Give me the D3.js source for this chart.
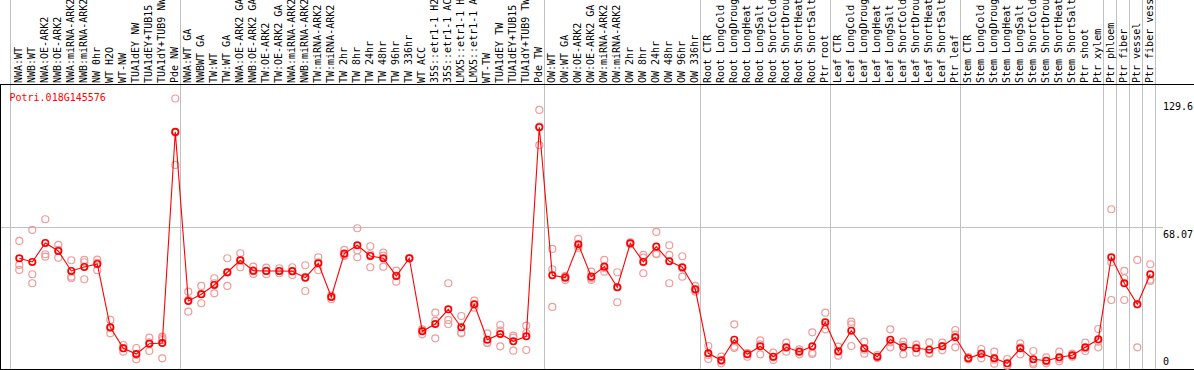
<!DOCTYPE html>
<html>
<head>
<meta charset="utf-8">
<script src="https://cdn.jsdelivr.net/npm/d3@7"></script>
<style>
  body{margin:0;background:#fff}
  text{font-family:"DejaVu Sans Mono",monospace;font-size:10px}
</style>
</head>
<body>
<script>
var geneName="Potri.018G145576"

var categories=["NWA:WT","NWB:WT","NWA:OE-ARK2","NWB:OE-ARK2","NWA:miRNA-ARK2","NWB:miRNA-ARK2","NW 0hr","WT H2O","WT-NW","TUA1dEY NW","TUA1dEY+TUB15 NW","TUA1dY+TUB9 NW","Pde NW",
  "NWA:WT GA","NWBWT GA","TW:WT","TW:WT GA","NWA:OE-ARK2 GA","NWB:OE-ARK2 GA","TW:OE-ARK2","TW:OE-ARK2 GA","NWA:miRNA-ARK2","NWB:miRNA-ARK2","TW:miRNA-ARK2","TW:miRNA-ARK2","TW 2hr","TW 8hr","TW 24hr","TW 48hr","TW 96hr","TW 336hr","WT ACC","35S::etr1-1 H2O","35S::etr1-1 ACC","LMX5::etr1-1 H2O","LMX5::etr1-1 ACC","WT-TW","TUA1dEY TW","TUA1dEY+TUB15 TW","TUA1dY+TUB9 TW","Pde TW",
  "OW:WT","OW:WT GA","OW:OE-ARK2","OW:OE-ARK2 GA","OW:miRNA-ARK2","OW:miRNA-ARK2","OW 2hr","OW 8hr","OW 24hr","OW 48hr","OW 96hr","OW 336hr",
  "Root CTR","Root LongCold","Root LongDrought","Root LongHeat","Root LongSalt","Root ShortCold","Root ShortDrought","Root ShortHeat","Root ShortSalt","Ptr root",
  "Leaf CTR","Leaf LongCold","Leaf LongDrought","Leaf LongHeat","Leaf LongSalt","Leaf ShortCold","Leaf ShortDrought","Leaf ShortHeat","Leaf ShortSalt","Ptr leaf",
  "Stem CTR","Stem LongCold","Stem LongDrought","Stem LongHeat","Stem LongSalt","Stem ShortCold","Stem ShortDrought","Stem ShortHeat","Stem ShortSalt","Ptr shoot","Ptr xylem",
  "Ptr phloem","Ptr fiber","Ptr vessel","Ptr fiber vessel"]

// index where each new group starts (separator lines)
var groupBreaks=[13,41,53,63,73,84,85,86,87,88]

var means=[53.06,51.28,60.39,56.56,46.97,48.89,50.33,19.99,9.92,7.19,12.13,12.46,113.59,
  32.59,35.80,40.26,46.35,52.10,47.11,46.97,46.97,46.87,43.76,50.66,34.51,55.26,59.29,54.16,53.06,44.57,53.06,18.07,21.57,28.61,19.99,31.01,14.04,16.78,13.28,15.67,115.85,
  44.91,43.76,59.77,44.24,49.03,39.16,60.25,51.28,58.62,51.62,48.74,38.20,
  7.52,4.17,14.04,7.05,10.88,5.90,10.40,8.29,10.88,22.38,
  8.48,18.36,9.92,5.90,14.04,10.54,9.92,9.25,10.88,15.19,
  5.13,7.33,5.13,2.73,9.92,4.65,3.98,5.61,6.57,10.40,14.23,
  53.54,41.08,31.01,45.39]

var replicates=[
  [61.35,49.85,47.45],[66.62,45.39,41.08],[71.75,54.97,53.82],[59.43,53.35,57.04],[52.10,44.24,43.47],[52.24,51.14,42.99],[52.39,50.81,47.31],[23.49,17.11,19.65],[11.50,8.29,10.07],[10.07,4.65,6.71],[15.00,8.63,12.80],[15.48,14.71,13.90,5.13],[129.6,97.78,113.26],
  [37.05,27.46,33.07],[39.78,31.49,35.95],[43.47,36.28,41.08],[53.06,39.78,46.16],[55.45,48.74,52.10],[49.03,45.53,46.83],[48.55,45.39,46.97],[48.26,45.87,46.83],[48.74,45.05,46.83],[49.70,37.38,44.10],[53.54,47.31,51.14],[34.99,33.41,35.13],[57.04,54.16,54.64],[67.44,53.54,56.89],[58.81,48.74,54.97],[55.74,49.03,54.30],[47.11,41.84,44.72],[53.20,53.06,52.90],[19.03,16.63,18.55],[26.98,14.71,23.01],[41.08,23.49,21.57],[25.40,17.11,17.40],[32.74,29.38,30.82],[17.11,12.61,12.46],[21.09,10.88,18.36],[15.96,8.77,15.00],[20.75,9.11,17.25],[124.14,107.22,116.13],
  [57.52,47.79,29.72],[42.66,44.57,44.10],[62.31,58.95,58.00],[46.64,42.66,43.47],[52.24,46.64,48.26],[46.35,31.97,39.16],[60.73,59.77,60.25],[54.64,45.87,53.35],[65.66,54.97,55.26],[59.29,54.64,41.08],[54.02,44.24,48.26],[39.78,37.05,37.72],
  [11.02,4.79,6.71],[5.90,2.73,3.83],[21.42,10.69,10.07],[7.52,5.90,7.67],[13.76,7.05,11.84],[7.81,4.31,5.61],[12.61,8.29,10.21],[9.44,7.05,8.48],[17.59,7.81,7.19],[26.98,19.03,21.09],
  [10.69,6.37,8.29],[22.67,11.02,21.42],[13.08,7.33,9.25],[6.71,5.27,5.75],[19.03,10.40,12.80],[13.08,7.05,11.50],[11.65,7.81,10.21],[12.80,7.67,7.33],[12.61,8.96,11.02],[18.69,10.40,16.44],
  [5.75,4.65,4.94],[9.59,5.13,7.33],[8.29,2.54,4.46],[4.79,1.58,1.77],[12.32,7.05,10.40],[8.63,2.25,3.02],[5.61,2.73,3.69],[8.29,3.69,4.79],[7.33,5.90,6.37],[12.61,8.63,9.92],[19.17,10.40,13.08],
  [76.54,51.14,33.07],[46.97,43.47,33.07],[52.24,10.40,31.01],[50.18,42.80,42.18]]

var yTicks=[0,68.07,129.6]

var screen={width:1194,height:370}
var plot={left:10,top:84.5,right:1155.5,bottom:369}

var svg=d3.select("body").append("svg")
          .attr("width",screen.width)
          .attr("height",screen.height)

var xScale=d3.scaleBand()
             .domain(d3.range(categories.length))
             .range([11.5,11.5+13*categories.length])
var yScale=d3.scaleLinear()
             .domain([0,d3.max(yTicks)])
             .range([plot.bottom,98.5])
var cx=function(i){return xScale(i)+7.8}

// vertical separators (through the header too)
svg.append("line")
   .attr("x1",plot.left+0.5).attr("x2",plot.left+0.5)
   .attr("y1",0).attr("y2",plot.bottom)
   .attr("stroke","#c0c0c0")
svg.selectAll(".sep")
   .data(groupBreaks)
   .enter()
   .append("line")
   .classed("sep",true)
   .attr("x1",function(d){return xScale.range()[0]+d*xScale.step()})
   .attr("x2",function(d){return xScale.range()[0]+d*xScale.step()})
   .attr("y1",0)
   .attr("y2",plot.bottom)
   .attr("stroke","#c0c0c0")

// horizontal grid at the middle tick
svg.append("line")
   .attr("x1",0).attr("x2",1163)
   .attr("y1",Math.round(yScale(yTicks[1]))+0.5)
   .attr("y2",Math.round(yScale(yTicks[1]))+0.5)
   .attr("stroke","#c0c0c0")

// frame
svg.append("rect")
   .attr("x",0.5).attr("y",plot.top)
   .attr("width",1300).attr("height",plot.bottom-plot.top+0.5)
   .attr("fill","none")
   .attr("stroke","#000")

// header labels
svg.append("g")
   .selectAll("text")
   .data(categories)
   .enter()
   .append("text")
   .attr("transform",function(d,i){return "translate("+(xScale(i)+10)+",83) rotate(-90)"})
   .attr("fill","#000")
   .text(function(d){return d})

// y labels
svg.append("g")
   .selectAll("text")
   .data(yTicks)
   .enter()
   .append("text")
   .attr("x",1163)
   .attr("y",function(d){return Math.min(yScale(d)+11,plot.bottom-4)})
   .attr("fill","#000")
   .text(function(d){return d})

// title
svg.append("text")
   .attr("x",9.5)
   .attr("y",101)
   .attr("fill","#ff0000")
   .text(geneName)

// replicates
var repPoints=[]
replicates.forEach(function(r,i){r.forEach(function(v){repPoints.push({i:i,v:v})})})
svg.append("g")
   .selectAll("circle")
   .data(repPoints)
   .enter()
   .append("circle")
   .attr("cx",function(d){return cx(d.i)})
   .attr("cy",function(d){return yScale(d.v)})
   .attr("r",3.5)
   .attr("fill","none")
   .attr("stroke","#f09a9a")
   .attr("stroke-width",1.2)

// mean line
var drawLine=d3.line()
               .x(function(d,i){return cx(i)})
               .y(function(d){return yScale(d)})
svg.append("path")
   .datum(means)
   .attr("d",drawLine)
   .attr("fill","none")
   .attr("stroke","#ff0000")
   .attr("stroke-width",1.1)

svg.append("g")
   .selectAll("circle")
   .data(means)
   .enter()
   .append("circle")
   .attr("cx",function(d,i){return cx(i)})
   .attr("cy",function(d){return yScale(d)})
   .attr("r",3.2)
   .attr("fill","none")
   .attr("stroke","#ff0000")
   .attr("stroke-width",1.7)
</script>
</body>
</html>
